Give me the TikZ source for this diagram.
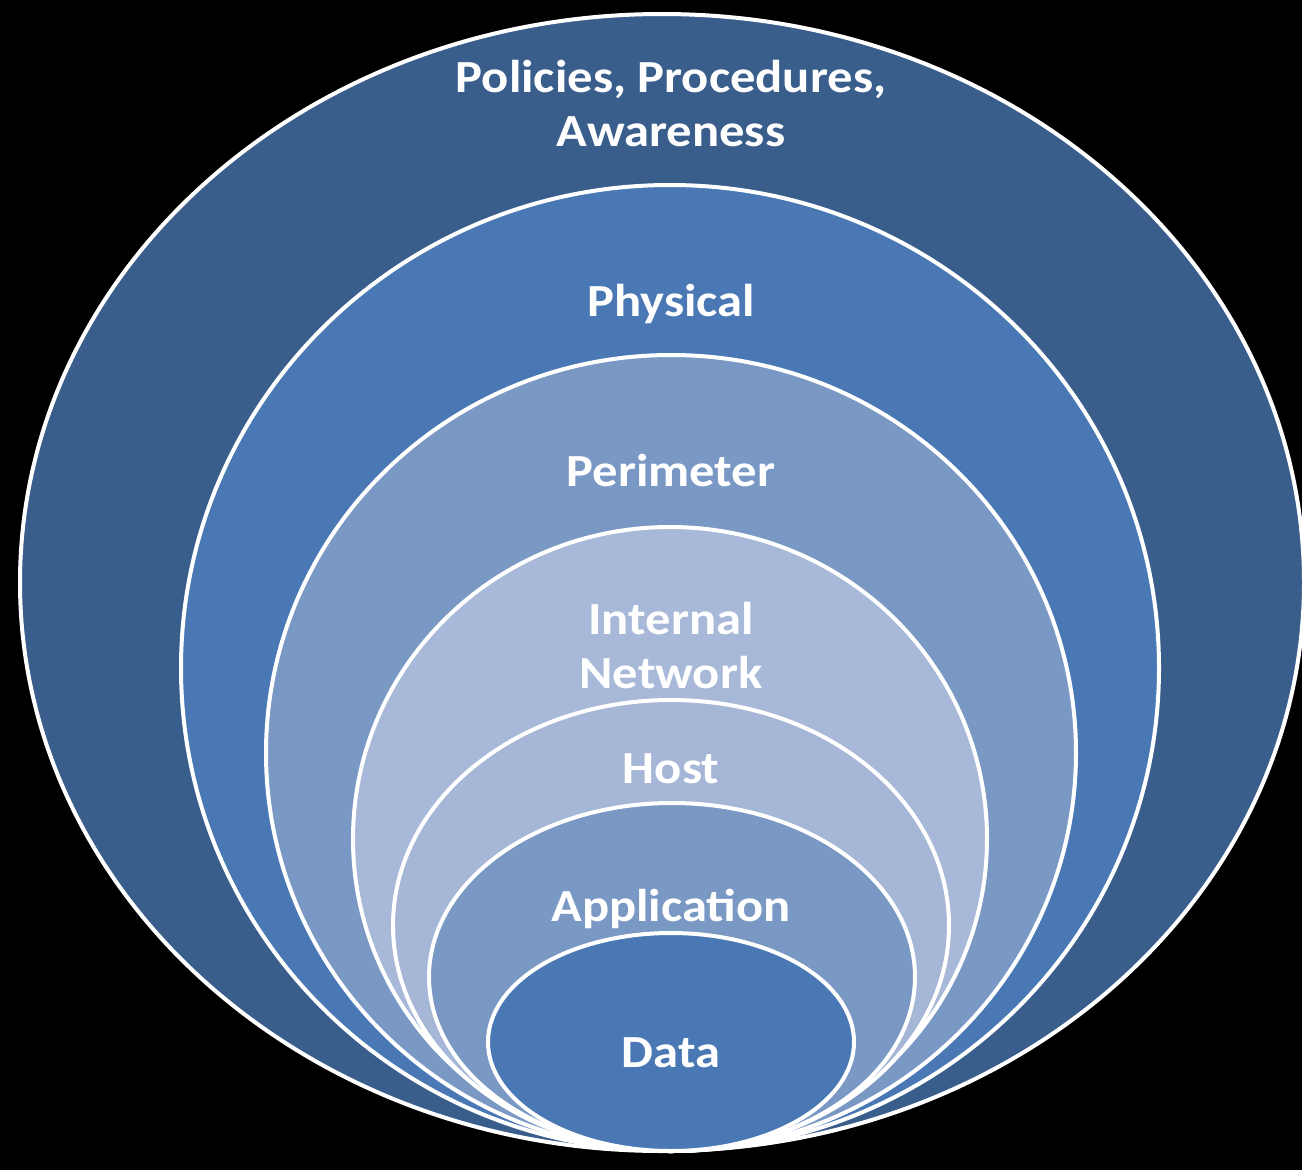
\documentclass[tikz,border=0pt]{standalone}
\usepackage{fontspec}
\setmainfont{Carlito}[FakeStretch=1.1]
\usetikzlibrary{shapes.geometric}
\definecolor{cOuter}{RGB}{58,94,140}
\definecolor{cPhys}{RGB}{74,120,180}
\definecolor{cPerim}{RGB}{122,152,196}
\definecolor{cInt}{RGB}{168,184,216}
\definecolor{cHost}{RGB}{166,182,214}
\definecolor{cApp}{RGB}{122,152,196}
\definecolor{cData}{RGB}{74,120,180}
\tikzset{
  layer/.style={ellipse, draw=white, line width=4pt, inner sep=0pt, outer sep=0pt},
  lbl/.style={text=white, font=\fontsize{46}{54}\selectfont\bfseries, align=center, inner sep=0pt, anchor=base}
}
\begin{document}
\begin{tikzpicture}[x=1pt,y=-1pt]
\fill[black] (0,0) rectangle (1302,1170);
\useasboundingbox (0,0) rectangle (1302,1170);
\node[layer, fill=cOuter, minimum width=1284pt, minimum height=1137pt] (policies) at (662,582.5) {};
\node[layer, fill=cPhys,  minimum width=978pt,  minimum height=966pt]  (physical) at (670,668) {};
\node[layer, fill=cPerim, minimum width=810pt,  minimum height=796pt]  (perimeter) at (671,753) {};
\node[layer, fill=cInt,   minimum width=634pt,  minimum height=624pt]  (internal) at (670,839) {};
\node[layer, fill=cHost,  minimum width=556pt,  minimum height=451pt]  (host) at (671,925.5) {};
\node[layer, fill=cApp,   minimum width=486pt,  minimum height=348pt]  (application) at (672,977) {};
\node[layer, fill=cData,  minimum width=366pt,  minimum height=218pt]  (data) at (671,1042) {};
\node[lbl] (tPol1) at (671,92) {Policies, Procedures,};
\node[lbl] (tPol2) at (671,146) {Awareness};
\node[lbl] (tPhys) at (671,316) {Physical};
\node[lbl] (tPerim) at (671,486) {Perimeter};
\node[lbl] (tInt1) at (671,634) {Internal};
\node[lbl] (tInt2) at (671,688) {Network};
\node[lbl] (tHost) at (671,783) {Host};
\node[lbl] (tApp) at (671,921) {Application};
\node[lbl] (tData) at (671,1067) {Data};
\end{tikzpicture}
\end{document}
